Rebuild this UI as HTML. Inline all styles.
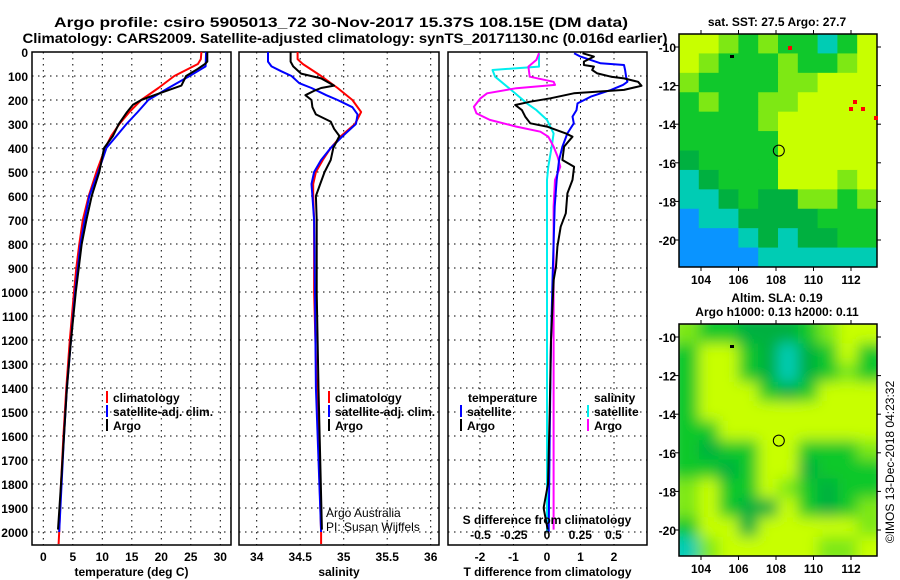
<!DOCTYPE html>
<html><head><meta charset="utf-8"><style>
html,body{margin:0;padding:0;background:#fff}
svg{display:block;font-family:"Liberation Sans",sans-serif}
.t{font-weight:bold;font-size:14px}
.tk{font-weight:bold;font-size:12px}
.g{stroke:#000;stroke-width:1;stroke-dasharray:1.5,4.5}
.ax{fill:none;stroke:#000;stroke-width:1.5}
.pl{fill:none;stroke-width:2;stroke-linejoin:round}
</style></head><body>
<svg id="c" width="900" height="580" viewBox="0 0 900 580">
<text class="t" x="341" y="27" text-anchor="middle" textLength="574" lengthAdjust="spacingAndGlyphs">Argo profile: csiro 5905013_72 30-Nov-2017 15.37S 108.15E (DM data)</text>
<text class="t" x="345" y="43" text-anchor="middle" textLength="645" lengthAdjust="spacingAndGlyphs">Climatology: CARS2009. Satellite-adjusted climatology: synTS_20171130.nc (0.016d earlier)</text>
<g id="p1"></g>
<g id="p2"></g>
<g id="p3"></g>
<g id="m1"></g>
<g id="m2"></g>
<text class="tk" x="777" y="26" text-anchor="middle">sat. SST: 27.5 Argo: 27.7</text>
<text class="tk" x="777" y="302" text-anchor="middle">Altim. SLA: 0.19</text>
<text class="tk" x="777" y="316" text-anchor="middle">Argo h1000: 0.13 h2000: 0.11</text>
<text x="894" y="462" font-size="12" text-anchor="middle" transform="rotate(-90 894 462)">©IMOS 13-Dec-2018 04:23:32</text>
</svg>
<script>
// ---- data ----
const depthTicks=[0,100,200,300,400,500,600,700,800,900,1000,1100,1200,1300,1400,1500,1600,1700,1800,1900,2000];
const tempTicks=[0,5,10,15,20,25,30];
const salTicks=[34,34.5,35,35.5,36];
const tdiffTicks=[-2,-1,0,1,2];
const sdiffTicks=[-0.5,-0.25,0,0.25,0.5];
const sdiffTickLabels=["-0.5","-0.25","0","0.25","0.5"];
const climD=[0,30,50,100,150,200,250,300,350,400,500,600,700,800,900,1000,1200,1400,1600,1800,2000,2050];
const climT=[26.8,26.7,26.2,22.2,19.5,16.6,14.6,12.9,11.5,10.5,9.0,7.7,6.7,6.1,5.6,5.2,4.5,3.9,3.4,3.0,2.7,2.6];
const satD=[0,60,100,150,200,250,300,350,400,500,600,700,800,1000,1200,1400,1600,1800,2000];
const satT=[27.6,27.5,24.8,21.2,17.8,16.0,14.1,12.4,10.7,9.3,7.8,7.0,6.3,5.4,4.7,4.0,3.5,3.1,2.7];
const argoD=[0,40,50,70,100,140,180,200,220,250,300,350,400,500,600,700,800,1000,1200,1400,1600,1800,1990];
const argoT=[27.8,27.8,27.4,26.2,24.2,23.4,18.8,16.6,15.2,14.2,12.8,11.8,10.3,9.5,8.2,7.3,6.5,5.5,4.7,4.0,3.5,3.0,2.5];
const climSD=[0,30,50,100,150,200,250,300,350,400,450,500,550,600,700,1000,1400,2000,2050];
const climS=[34.47,34.47,34.53,34.74,34.93,35.10,35.20,35.13,34.97,34.85,34.76,34.68,34.65,34.65,34.66,34.66,34.69,34.74,34.74];
const satSD=[0,40,60,80,100,130,150,180,200,230,260,300,350,400,450,500,550,600,700,1000,1400,2000];
const satS=[34.13,34.13,34.17,34.28,34.40,34.49,34.63,34.80,34.93,35.10,35.16,35.14,34.99,34.85,34.74,34.66,34.63,34.64,34.66,34.67,34.68,34.74];
const argoSD=[0,40,60,90,110,140,150,160,180,200,230,260,290,320,350,400,450,500,550,600,700,1000,1400,1990];
const argoS=[34.39,34.39,34.42,34.51,34.74,34.89,34.74,34.67,34.56,34.63,34.64,34.68,34.85,34.89,34.95,34.88,34.85,34.78,34.73,34.68,34.69,34.69,34.71,34.75];
const dTsatD=[5,19,47,54,75,103,124,137,158,186,214,242,269,297,339,394,450,533,644,783,922,1200,1600,2000];
const dTsat=[0.81,1.0,1.6,2.3,2.33,2.36,2.4,2.27,1.91,1.31,0.91,0.88,0.76,0.8,0.61,0.46,0.36,0.29,0.23,0.2,0.17,0.12,0.08,0.05];
const dTargoD=[5,19,40,54,61,75,89,103,110,124,141,158,172,193,207,221,242,269,297,311,339,353,394,450,478,533,589,672,728,811,894,950,1200,1500,1800,1900,1990];
const dTargo=[1.06,1.4,1.1,1.1,1.4,1.35,1.5,1.91,2.3,2.72,2.82,2.3,0.8,0.1,-0.5,-0.95,-0.75,-0.65,-0.5,0,0.56,0.76,0.51,0.46,0.81,0.76,0.61,0.56,0.41,0.31,0.27,0.2,0.12,0.08,0.03,-0.1,0.02];
const dSsatD=[5,61,75,103,158,214,242,283,339,394,478,533,1000,1500,2000];
const dSsat=[-0.06,-0.06,-0.41,-0.39,-0.27,-0.15,-0.08,0,0.05,0.035,0.01,0,0,0,0];
const dSargoD=[5,33,61,103,124,137,151,172,193,228,256,283,311,332,353,394,436,478,533,644,1000,1500,1990];
const dSargo=[-0.06,-0.08,-0.14,-0.13,0.05,0.06,-0.23,-0.45,-0.50,-0.55,-0.53,-0.43,-0.23,-0.05,0.01,0.05,0.08,0.10,0.06,0.05,0.05,0.05,0.05];
const mapLatTicks=[-10,-12,-14,-16,-18,-20];
const mapLonTicks=[104,106,108,110,112];
const argoLon=108.15, argoLat=-15.37;
const sstGrid=["YYLGLGGCGY","YLGGGLGGLY","LGGGGLLYYY","GLGGLLYYYY","GGGGLYYYYY","GGGGGYYYYY","DGGGGYYYYY","CDGGGYYYLY","CCDGDDLLGL","BCCDDDDGGG","BBBCDCDDGG","BBBBCCCCCC"];
const slaGrid=["LGGDDDGLYY","GYYGDCDGYG","GYYGDCDGLG","GYYYGDGYYY","GYYYYYYYYY","GGYYYYYYYY","GDGGYYGGGL","GGDGYYDGGG","LYGGYLGDGG","LYGDDYGDGL","GYYDYYYYYL","CLYYYYYLLY"];
// ---- helpers ----
const NS="http://www.w3.org/2000/svg";
function mk(parent,tag,attrs){const e=document.createElementNS(NS,tag);for(const k in attrs)e.setAttribute(k,attrs[k]);parent.appendChild(e);return e;}
const Y0=52,PX=0.24,BOT=545;
const yD=d=>Y0+d*PX;
const xT=t=>43.3+t*5.9;
const xS=s=>256.7+(s-34)*87;
const xdT=t=>547+t*33.5;
const xdS=s=>547+s*133;
function panel(g,L,R,xticks,xfn,labels,title,showDepth){
  depthTicks.forEach(d=>{const l=mk(g,'line',{x1:L,x2:R,y1:yD(d),y2:yD(d),class:'g'});
    
    if(showDepth){const t=mk(g,'text',{x:28,y:yD(d)+5,'text-anchor':'end',class:'tk'});t.textContent=d;
    }});
  xticks.forEach((v,i)=>{const x=xfn(v);const l=mk(g,'line',{x1:x,x2:x,y1:Y0,y2:BOT,class:'g'});
    
    const t=mk(g,'text',{x:x,y:561,'text-anchor':'middle',class:'tk'});t.textContent=labels?labels[i]:v;
    });
  const r=mk(g,'rect',{x:L,y:Y0,width:R-L,height:BOT-Y0,class:'ax'});
  
  const t=mk(g,'text',{x:(L+R)/2,y:576,'text-anchor':'middle',class:'tk'});t.textContent=title;
  
}
function line(g,D,V,xf,color,name){
  const pts=D.map((d,i)=>xf(V[i]).toFixed(1)+','+yD(d).toFixed(1)).join(' ');
  const p=mk(g,'polyline',{points:pts,class:'pl',stroke:color});
  
}
function legend(g,x,y,color,label,name){
  if(color){const l=mk(g,'line',{x1:x,x2:x,y1:y-11,y2:y+1,stroke:color,'stroke-width':2});
  }
  const t=mk(g,'text',{x:x+6,y:y,class:'tk'});t.textContent=label;
  
}
// panel 1
const p1=document.getElementById('p1');
panel(p1,32,231,tempTicks,xT,null,'temperature (deg C)',true);
line(p1,climD,climT,xT,'#f00','climatology-temp-line');
line(p1,satD,satT,xT,'#00f','satellite-temp-line');
line(p1,argoD,argoT,xT,'#000','argo-temp-line');
legend(p1,107,402,'#f00','climatology','legend-climatology');
legend(p1,107,416,'#00f','satellite-adj. clim.','legend-satellite');
legend(p1,107,430,'#000','Argo','legend-argo');
// panel 2
const p2=document.getElementById('p2');
panel(p2,239,439,salTicks,xS,null,'salinity',false);
line(p2,climSD,climS,xS,'#f00','climatology-salinity-line');
line(p2,satSD,satS,xS,'#00f','satellite-salinity-line');
line(p2,argoSD,argoS,xS,'#000','argo-salinity-line');
legend(p2,329,402,'#f00','climatology','legend-climatology');
legend(p2,329,416,'#00f','satellite-adj. clim.','legend-satellite');
legend(p2,329,430,'#000','Argo','legend-argo');
[['Argo Australia',517],['PI: Susan Wijffels',531]].forEach(a=>{const t=mk(p2,'text',{x:326,y:a[1],'font-size':'12'});t.textContent=a[0];
  });
// panel 3
const p3=document.getElementById('p3');
panel(p3,448,647,tdiffTicks,xdT,null,'T difference from climatology',false);
line(p3,dSsatD,dSsat,xdS,'#0ee','satellite-sdiff-line');
line(p3,dSargoD,dSargo,xdS,'#f0f','argo-sdiff-line');
line(p3,dTsatD,dTsat,xdT,'#00f','satellite-tdiff-line');
line(p3,dTargoD,dTargo,xdT,'#000','argo-tdiff-line');
legend(p3,462,402,null,'temperature','legend-temperature-header');
legend(p3,461,416,'#00f','satellite','legend-t-satellite');
legend(p3,461,430,'#000','Argo','legend-t-argo');
legend(p3,588,402,null,'salinity','legend-salinity-header');
legend(p3,588,416,'#0ee','satellite','legend-s-satellite');
legend(p3,588,430,'#f0f','Argo','legend-s-argo');
{const t=mk(p3,'text',{x:547,y:524,'text-anchor':'middle',class:'tk'});t.textContent='S difference from climatology';
}
sdiffTicks.forEach((v,i)=>{const t=mk(p3,'text',{x:xdS(v),y:539,'text-anchor':'middle',class:'tk'});t.textContent=sdiffTickLabels[i];
});
// maps
const COL={Y:'#c8ff00',L:'#7ee814',G:'#10c82c',D:'#00b040',C:'#00ccb4',B:'#0a94ff'};
function map(id,top,grid,blur){
  const g=document.getElementById(id);const L=679,R=877,T=top,B=top+(id==='m1'?233:232);
  const cw=(R-L)/10,ch=(B-T)/12;
  const cid='clip'+id;const cp=mk(g,'clipPath',{id:cid});mk(cp,'rect',{x:L,y:T,width:R-L,height:B-T});
  const cg=mk(g,'g',{'clip-path':'url(#'+cid+')'});
  let inner=cg;
  if(blur){const f=mk(g,'filter',{id:'bl'+id,x:'-10%',y:'-10%',width:'120%',height:'120%'});mk(f,'feGaussianBlur',{stdDeviation:'7'});inner=mk(cg,'g',{filter:'url(#bl'+id+')'});}
  grid.forEach((row,r)=>{[...row].forEach((c,k)=>{const rc=mk(inner,'rect',{x:L+k*cw-(blur?10*(k==0):0),y:T+r*ch-(blur?10*(r==0):0),width:cw+0.6+(blur&&(k==0||k==9)?10:0),height:ch+0.6+(blur&&(r==0||r==11)?10:0),fill:COL[c]});
    });});
  const lx=lon=>701+(lon-104)*18.75, ly=lat=>T+13+(-10-lat)*19.3;
  const fr=mk(g,'rect',{x:L,y:T,width:R-L,height:B-T,class:'ax'});
  
  mapLatTicks.forEach(v=>{const y=ly(v);mk(g,'line',{x1:L-4,x2:L,y1:y,y2:y,stroke:'#000'});mk(g,'line',{x1:R,x2:R+4,y1:y,y2:y,stroke:'#000'});
    const t=mk(g,'text',{x:L-3,y:y+5,'text-anchor':'end',class:'tk'});t.textContent=v;
    });
  mapLonTicks.forEach(v=>{const x=lx(v);mk(g,'line',{x1:x,x2:x,y1:T-4,y2:T,stroke:'#000'});mk(g,'line',{x1:x,x2:x,y1:B,y2:B+4,stroke:'#000'});
    const t=mk(g,'text',{x:x,y:B+17,'text-anchor':'middle',class:'tk'});t.textContent=v;
    });
  const c=mk(g,'circle',{cx:lx(argoLon),cy:ly(argoLat),r:5.5,fill:'none',stroke:'#000','stroke-width':1});
  
  mk(g,'rect',{x:730,y:T+21,width:4,height:3,fill:'#000'});
  if(!blur){[[788,T+12],[853,T+66],[849,T+73],[861,T+73],[874,T+82]].forEach(p=>mk(g,'rect',{x:p[0],y:p[1],width:4,height:4,fill:'#f00'}));}
}
map('m1',34,sstGrid,false);
map('m2',324,slaGrid,true);
</script>
</body></html>
